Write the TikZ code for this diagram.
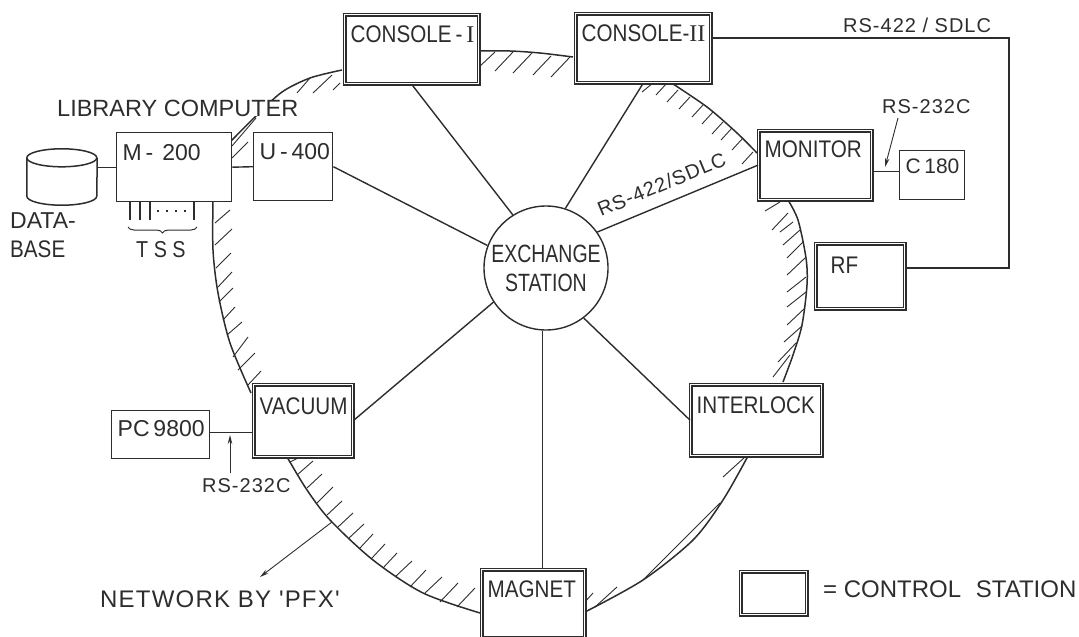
\documentclass[tikz,border=0pt]{standalone}
\usepackage{fontspec}
\setmainfont[FakeStretch=0.86]{Liberation Sans}
\newfontfamily\notefont{Liberation Sans}
\newfontfamily\widefont[LetterSpace=5]{Liberation Sans}
\newfontfamily\exchfont[FakeStretch=0.78]{Liberation Sans}
\newfontfamily\romanfont{Liberation Serif}
\usepackage{tikz}
\usetikzlibrary{arrows.meta, decorations.pathreplacing}
\definecolor{figink}{RGB}{45,45,45}
\tikzset{
  station/.style n args={3}{draw=figink, fill=white, double=white, double distance=1.6pt,
              line width=1.3pt, anchor=north west, inner sep=0pt, inner xsep=6pt,
              minimum width=#1pt, minimum height=#2pt, text width=#1pt-12pt, align=left,
              text height=#3pt, text depth=#2pt-#3pt, font=\fontsize{24}{26}\selectfont},
  unit/.style n args={3}{draw=figink, fill=white, line width=1.4pt,
              anchor=north west, inner sep=0pt, inner xsep=6pt,
              minimum width=#1pt, minimum height=#2pt, text width=#1pt-12pt, align=left,
              text height=#3pt, text depth=#2pt-#3pt, font=\notefont\fontsize{23}{26}\selectfont},
  note/.style={anchor=base west, inner sep=0pt, font=\notefont\fontsize{23.5}{26}\selectfont},
  rslabel/.style={anchor=base west, inner sep=0pt, font=\widefont\fontsize{20}{24}\selectfont},
  wire/.style={draw=figink, line width=1.4pt},
  ring/.style={draw=figink, line width=1.5pt},
  hatchline/.style={draw=figink, line width=0.9pt},
  arr/.style={draw=figink, line width=0.9pt, -{Stealth[length=9pt, width=4.5pt]}},
}

\begin{document}
\begin{tikzpicture}[x=1pt, y=-1pt, text=figink]
  \useasboundingbox (0,0) rectangle (1079,637);

  % ─── Network ring (drawn first, boxes sit on top) ──────────────────
  \draw[ring] plot[smooth] coordinates {(231,141) (257,115) (282,92) (310,78) (342,70)};
  \draw[ring] plot[smooth] coordinates {(478,51) (510,51) (540,53) (573,57)};
  \draw[ring] plot[smooth] coordinates {(670,82) (707,107) (737,133) (757,153)};
  \draw[ring] plot[smooth] coordinates {(788,200) (798,220) (806,258) (807,285) (802,325) (793,355) (783,382)};
  \draw[ring] plot[smooth] coordinates {(748,456) (723,500) (693,540) (643,580) (585,612)};
  \draw[ring] plot[smooth] coordinates {(287,457) (307,490) (330,520) (373,560) (423,593) (480,613)};
  \draw[ring] plot[smooth] coordinates {(213,200) (213,250) (218,293) (230,343) (251,393)};

  % Hatching, one path per arc
  \draw[hatchline] (232,146) -- (256,118) (232,158) -- (248,142)
    (297,93) -- (310,78) (313,93) -- (332,75) (333,90) -- (340,83);
  \draw[hatchline] (478,68) -- (495,52) (495,71) -- (513,52) (513,73) -- (532,53)
    (533,75) -- (551,56) (551,77) -- (570,57);
  \draw[hatchline] (653,83) -- (642,92) (667,83) -- (656,95) (678,90) -- (667,102)
    (690,97) -- (679,109) (703,105) -- (692,117) (713,112) -- (702,124)
    (723,122) -- (712,134) (732,128) -- (721,140) (743,138) -- (732,150) (753,152) -- (742,164);
  \draw[hatchline] (780,202) -- (765,211) (788,213) -- (772,230) (793,222) -- (780,232)
    (800,230) -- (783,245) (803,242) -- (787,258) (805,258) -- (787,275)
    (806,277) -- (787,292) (806,292) -- (787,307) (805,308) -- (787,325)
    (802,326) -- (784,342) (796,343) -- (778,362) (790,355) -- (773,377);
  \draw[hatchline] (745,457) -- (723,477) (720,503) -- (643,580)
    (617,587) -- (595,607) (593,593) -- (584,603);
  \draw[hatchline] (290,462) -- (300,457) (297,475) -- (313,461) (307,488) -- (322,474)
    (317,503) -- (333,487) (327,515) -- (342,501) (338,527) -- (353,513)
    (349,538) -- (364,524) (360,548) -- (373,534) (372,558) -- (385,544)
    (383,568) -- (397,553) (395,577) -- (412,561) (410,587) -- (426,570)
    (425,593) -- (442,577) (440,602) -- (458,583) (457,607) -- (475,588);
  \draw[hatchline] (215,223) -- (230,210) (215,245) -- (232,229) (216,268) -- (231,253)
    (218,287) -- (232,272) (219,302) -- (233,288) (223,320) -- (235,307)
    (227,335) -- (242,322) (233,357) -- (248,337) (238,370) -- (255,353) (248,385) -- (261,371);

  % ─── Stations on the ring ──────────────────────────────────────────
  \node[circle, draw=figink, fill=white, line width=1.4pt, minimum size=124pt, inner sep=0pt,
        align=center, font=\exchfont\fontsize{25}{29}\selectfont] (exch) at (546,268) {EXCHANGE\\STATION};

  \node[station={134}{69}{28}] (console1) at (344,14) {\mbox{CONSOLE\,-\,{\romanfont I}}};
  \node[station={135}{69}{28}, inner xsep=3pt] (console2) at (575,13) {\mbox{CONSOLE-{\romanfont II}}};
  \node[station={113}{69}{27}] (monitor) at (758,130) {MONITOR};
  \node[station={89}{65}{30}] (rf) at (815,243) {\hspace{9pt}RF};
  \node[station={131}{71}{29}] (interlock) at (690,384) {INTERLOCK};
  \node[station={99}{72}{30}] (vacuum) at (253,384) {VACUUM};
  \node[station={103}{68}{28}] (magnet) at (481,569) {MAGNET};

  % Computers beside the stations
  \node[unit={115}{69}{28}] (m200) at (116,132) {\mbox{M\,-\hspace{9pt}200}};
  \node[unit={79}{68}{27}, inner xsep=4pt] (u400) at (253,132) {\mbox{U\,-\,400}};
  \node[unit={65}{49}{23}, inner xsep=4pt, font=\notefont\fontsize{21}{24}\selectfont] (c180) at (899,150) {\mbox{C\,180}};
  \node[unit={98}{48}{26}, inner xsep=4pt] (pc9800) at (111,410) {\mbox{PC\,9800}};

  % Database drum: a named frame, the curves are drawn on its corners
  \node[minimum width=70pt, minimum height=38pt, inner sep=0pt] (db) at (62,177) {};
  \draw[ring] (db.north west) arc[start angle=180, end angle=540, x radius=35pt, y radius=9pt];
  \draw[ring] (db.north west) -- (db.south west)
    arc[start angle=180, end angle=360, x radius=35pt, y radius=9pt] -- (db.north east);

  % ─── Spokes from the exchange ──────────────────────────────────────
  \draw[wire] (exch.159) -- (u400.east);
  \draw[wire] (exch.122) -- (console1.south);
  \draw[wire] (exch.72) -- (console2.south);
  \draw[wire] (exch.35) -- (monitor.west);
  \draw[wire] (exch.-53) -- (interlock.west);
  \draw[wire] (exch.-93) -- (exch.-93 |- magnet.north);
  \draw[wire] (exch.213) -- (vacuum.east);

  % ─── Side links ────────────────────────────────────────────────────
  \draw[wire] (m200.west) -- (m200.west -| db.east);
  \draw[wire] (m200.east) -- (u400.west);
  \draw[wire] ([yshift=4pt]c180.west) -- ([yshift=4pt]c180.west -| monitor.east);
  \draw[wire] ([yshift=2pt]vacuum.west |- pc9800.east) -- ([yshift=2pt]pc9800.east);
  \draw[wire] (console2.east |- 0,38) -- (1009,38) -- (1009,268) -- (rf.east |- 0,268);

  % TSS terminals
  \draw[wire] (130,201) -- (130,220) (140,201) -- (140,220) (150,201) -- (150,220) (194,201) -- (194,220);
  \draw[figink, line width=1.8pt, dash pattern=on 2pt off 7pt] (157,211) -- (186,211);
  \draw[figink, line width=1pt, decorate, decoration={brace, mirror, amplitude=6pt}] (128,227) -- (197,227);

  % ─── Labels ────────────────────────────────────────────────────────
  \node[note, fill=white] (libtxt) at (57,116) {LIBRARY COMPUTER};
  \node[note, font=\notefont\fontsize{23}{26}\selectfont] (dbtxt1) at (10,228) {DATA-};
  \node[note, font=\fontsize{24}{26}\selectfont] (dbtxt2) at (10,257) {BASE};
  \node[note, font=\fontsize{23}{26}\selectfont] (tsstxt) at (136,257) {T S S};
  \node[rslabel] (rs422a) at (843,32) {RS-422 / SDLC};
  \node[rslabel] (rs232a) at (882,113) {RS-232C};
  \node[rslabel] (rs232b) at (202,492) {RS-232C};
  \node[rslabel, rotate=22.5] (rs422b) at (601,217) {RS-422/SDLC};
  \node[note, font=\widefont\fontsize{24}{26}\selectfont] (pfxtxt) at (100,607) {NETWORK BY 'PFX'};

  \coordinate (taila) at (898,118);
  \coordinate (tipa) at (885,167);
  \coordinate (tailb) at (230,473);
  \coordinate (tipb) at (230,435);
  \coordinate (tailc) at (332,522);
  \coordinate (tipc) at (260,577);
  \draw[arr] (taila) -- (tipa);
  \draw[arr] (tailb) -- (tipb);
  \draw[arr] (tailc) -- (tipc);

  % ─── Legend ────────────────────────────────────────────────────────
  \node[station={66}{43}{20}] (legend) at (740,571) {};
  \node[note, font=\notefont\fontsize{24}{26}\selectfont] (legendtxt) at (823,597) {= CONTROL\,\, STATION};

\end{tikzpicture}
\end{document}
